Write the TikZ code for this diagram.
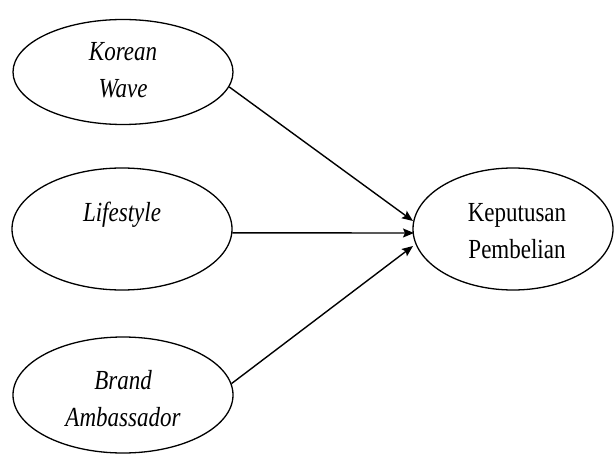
\documentclass[tikz,border=0pt]{standalone}
\usepackage{fontspec}
\usepackage{graphicx}
\setmainfont{Liberation Serif}
\usetikzlibrary{shapes.geometric,arrows.meta}
\newcommand{\tallt}[1]{\scalebox{1}[1.2]{#1}}
\begin{document}
\begin{tikzpicture}[x=1pt,y=-1pt,
  oval/.style={ellipse,draw,line width=1.3pt,inner sep=0pt},
  lbl/.style={font=\fontsize{23}{37}\selectfont,align=center,inner sep=0pt},
  link/.style={line width=1.4pt,-{Stealth[length=11pt,width=9pt,inset=2pt]}}]
\useasboundingbox (0,0) rectangle (615,454);
\node[oval,minimum width=220pt,minimum height=105pt] (kw) at (123,72) {};
\node[oval,minimum width=220pt,minimum height=122pt] (ls) at (122,229) {};
\node[oval,minimum width=220pt,minimum height=116pt] (ba) at (123,395) {};
\node[oval,minimum width=200pt,minimum height=122pt] (kp) at (513,229) {};
\node[lbl] (kwt) at (123,70) {\tallt{\itshape Korean}\\\tallt{\itshape Wave}};
\node[lbl] (lst) at (122,215) {\tallt{\itshape Lifestyle}};
\node[lbl] (bat) at (123,399) {\tallt{\itshape Brand}\\\tallt{\itshape Ambassador}};
\node[lbl] (kpt) at (517,231) {\tallt{Keputusan}\\\tallt{Pembelian}};
\coordinate (t1) at (413,221);
\coordinate (t2) at (414,233);
\coordinate (t3) at (413,246);
\draw[link] (kw.-8) -- (t1);
\draw[link] (ls.-2) -- (t2);
\draw[link] (ba.6) -- (t3);
\end{tikzpicture}
\end{document}
